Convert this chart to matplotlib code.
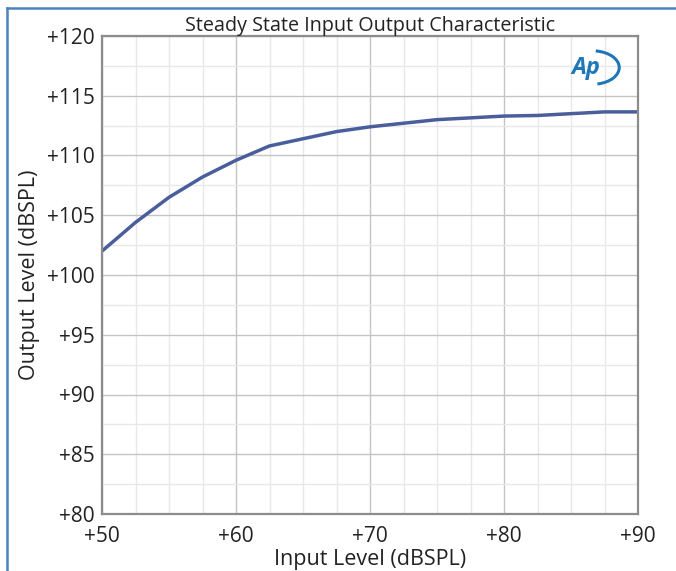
import numpy as np
import matplotlib
matplotlib.use("Agg")
import matplotlib.pyplot as plt
from matplotlib.patches import Arc
from matplotlib.ticker import MultipleLocator, FuncFormatter

# Данные кривой
input_level = [50, 52.5, 55, 57.5, 60, 62.5, 65, 67.5, 70, 72.5, 75, 77.5, 80, 82.5, 85, 87.5, 90]
output_level = [102.0, 104.4, 106.5, 108.2, 109.6, 110.8, 111.4, 112.0, 112.4, 112.7,
                 113.0, 113.15, 113.3, 113.35, 113.5, 113.65, 113.65]

plt.rcParams['font.family'] = ['Open Sans', 'DejaVu Sans']

fig = plt.figure(figsize=(6.76, 5.71), dpi=100)
ax = fig.add_axes([102 / 676, 1 - 514 / 571, 536 / 676, 478 / 571])

ax.plot(input_level, output_level, color='#4a5e9c', linewidth=2.5, solid_capstyle='butt')

ax.set_xlim(50, 90)
ax.set_ylim(80, 120)
ax.xaxis.set_major_locator(MultipleLocator(10))
ax.xaxis.set_minor_locator(MultipleLocator(2.5))
ax.yaxis.set_major_locator(MultipleLocator(5))
ax.yaxis.set_minor_locator(MultipleLocator(2.5))
fmt = FuncFormatter(lambda v, p: '+%d' % v)
ax.xaxis.set_major_formatter(fmt)
ax.yaxis.set_major_formatter(fmt)

ax.grid(which='major', color='#c4c4c4', linewidth=1.0)
ax.grid(which='minor', color='#e8e8e8', linewidth=1.0)
ax.set_axisbelow(True)
ax.tick_params(which='both', length=0, labelsize=15, colors='#222222')
ax.tick_params(axis='x', pad=9)
ax.tick_params(axis='y', pad=5)
for s in ax.spines.values():
    s.set_color('#8c8c8c')
    s.set_linewidth(1.6)

ax.set_title('Steady State Input Output Characteristic', fontsize=14.2, pad=3,
             color='#222222')
ax.set_xlabel('Input Level (dBSPL)', fontsize=15.5, labelpad=1, color='#222222')
ax.set_ylabel('Output Level (dBSPL)', fontsize=15.5, labelpad=5, color='#222222')

# логотип AP
ax.text(0.93, 0.934, 'Ap', transform=ax.transAxes, fontsize=17, fontweight='bold',
        fontstyle='italic', color='#1f77b9', ha='right', va='center')
ax.add_patch(Arc((0.915, 0.934), 0.1, 0.07, theta1=-75, theta2=80,
                 transform=ax.transAxes, color='#1f77b9', linewidth=2.2))

# синяя рамка окна
fig.add_artist(plt.Line2D([7 / 676, 7 / 676], [0, 1 - 8 / 571], transform=fig.transFigure,
                          color='#4f81bd', linewidth=1.8))
fig.add_artist(plt.Line2D([7 / 676, 1], [1 - 8 / 571, 1 - 8 / 571], transform=fig.transFigure,
                          color='#4f81bd', linewidth=1.8))

fig.savefig('out.png', dpi=100)
